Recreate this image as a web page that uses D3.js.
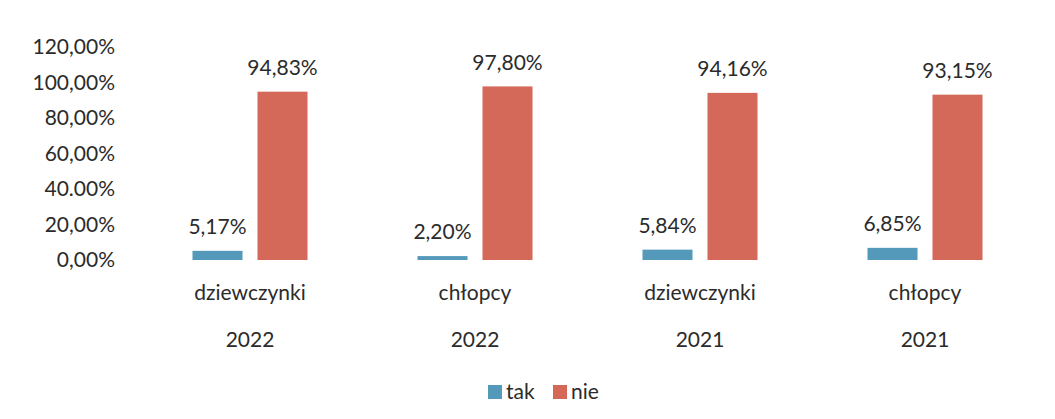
<!DOCTYPE html>
<html>
<head>
<meta charset="utf-8">
<script src="https://cdn.jsdelivr.net/npm/d3@7"></script>
<style>
  body { margin: 0; background: #fff; }
  text { font-family: Lato, "Open Sans", sans-serif; fill: #2b2b2b; }
</style>
</head>
<body>
<svg id="chart" width="1055" height="419"></svg>
<script>
const groups = ['dziewczynki', 'chłopcy', 'dziewczynki', 'chłopcy']
const years = ['2022', '2022', '2021', '2021']
const series = ['tak', 'nie']
const takValues = [5.17, 2.20, 5.84, 6.85]
const nieValues = [94.83, 97.80, 94.16, 93.15]
const yTicks = [0, 20, 40, 60, 80, 100, 120]
const yTickLabels = ['0,00%', '20,00%', '40.00%', '60,00%', '80,00%', '100,00%', '120,00%']
const colors = { tak: '#5499ba', nie: '#d4695a' }

const fmt = v => v.toFixed(2).replace('.', ',') + '%'
const fontSize = '21px'

const svg = d3.select('#chart')

const y = d3.scaleLinear().domain([0, 120]).range([260, 47])

const x0 = d3.scaleBand().domain(d3.range(groups.length)).range([137.5, 1037.5])
const x1 = d3.scaleBand().domain(series).range([55, 170]).paddingInner(0.2308)

// y axis labels only
svg.append('g')
  .selectAll('text')
  .data(yTicks)
  .join('text')
  .attr('x', 115)
  .attr('y', d => y(d))
  .attr('dy', '0.35em')
  .attr('text-anchor', 'end')
  .style('font-size', fontSize)
  .text((d, i) => yTickLabels[i])

const rows = groups.map((g, i) => ({ i: i, tak: takValues[i], nie: nieValues[i] }))

const grp = svg.append('g')
  .selectAll('g')
  .data(rows)
  .join('g')
  .attr('transform', d => `translate(${x0(d.i)},0)`)

grp.selectAll('rect')
  .data(d => series.map(s => ({ key: s, value: d[s] })))
  .join('rect')
  .attr('x', d => x1(d.key))
  .attr('width', x1.bandwidth())
  .attr('y', d => y(d.value))
  .attr('height', d => y(0) - y(d.value))
  .attr('fill', d => colors[d.key])

grp.selectAll('text.val')
  .data(d => series.map(s => ({ key: s, value: d[s] })))
  .join('text')
  .attr('class', 'val')
  .attr('x', d => x1(d.key) + x1.bandwidth() / 2)
  .attr('y', d => y(d.value) - 24)
  .attr('dy', '0.35em')
  .attr('text-anchor', 'middle')
  .style('font-size', fontSize)
  .text(d => fmt(d.value))

// category labels
svg.append('g')
  .selectAll('text')
  .data(groups)
  .join('text')
  .attr('x', (d, i) => x0(i) + x0.bandwidth() / 2)
  .attr('y', 293)
  .attr('dy', '0.35em')
  .attr('text-anchor', 'middle')
  .style('font-size', fontSize)
  .text(d => d)

svg.append('g')
  .selectAll('text')
  .data(years)
  .join('text')
  .attr('x', (d, i) => x0(i) + x0.bandwidth() / 2)
  .attr('y', 340)
  .attr('dy', '0.35em')
  .attr('text-anchor', 'middle')
  .style('font-size', fontSize)
  .text(d => d)

// legend
const legend = svg.append('g').attr('transform', 'translate(488,392)')
const legendX = { tak: 0, nie: 65 }
series.forEach(s => {
  legend.append('rect')
    .attr('x', legendX[s])
    .attr('y', -7)
    .attr('width', 14)
    .attr('height', 14)
    .attr('fill', colors[s])
  legend.append('text')
    .attr('x', legendX[s] + 18)
    .attr('y', 0)
    .attr('dy', '0.35em')
    .style('font-size', fontSize)
    .text(s)
})
</script>
</body>
</html>
